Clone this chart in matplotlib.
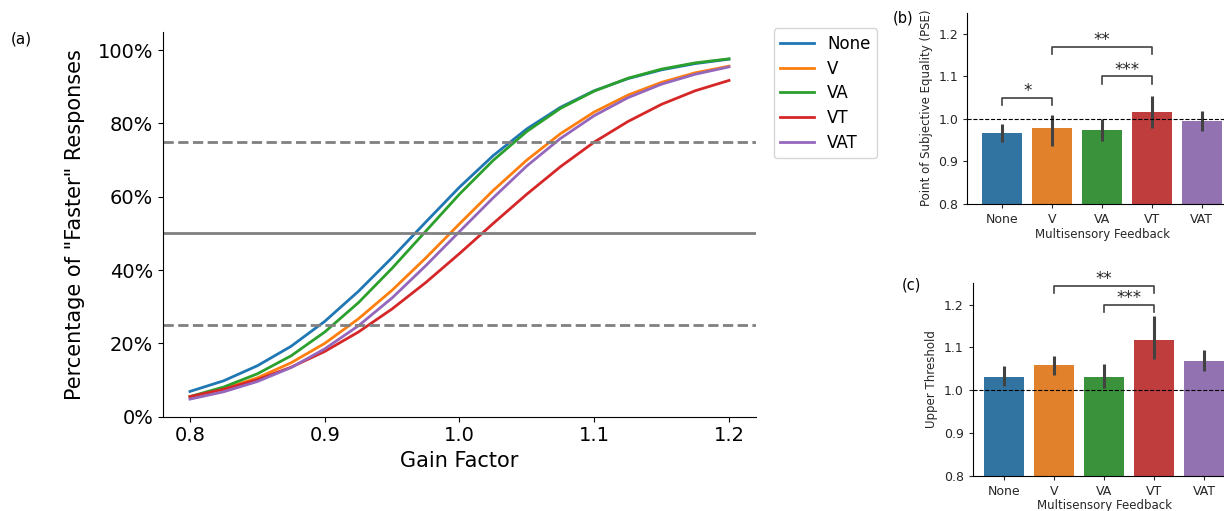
import numpy as np
import matplotlib.pyplot as plt
from matplotlib.ticker import PercentFormatter

# conditions shared by all three panels
conditions = ["None", "V", "VA", "VT", "VAT"]

# (a) psychometric curves, proportion of "faster" responses
gain = [0.800, 0.825, 0.850, 0.875, 0.900, 0.925, 0.950, 0.975, 1.000,
        1.025, 1.050, 1.075, 1.100, 1.125, 1.150, 1.175, 1.200]
resp_none = [0.069, 0.098, 0.139, 0.192, 0.260, 0.342, 0.434, 0.531, 0.626,
             0.712, 0.785, 0.844, 0.889, 0.922, 0.946, 0.963, 0.975]
resp_v = [0.054, 0.076, 0.106, 0.147, 0.200, 0.267, 0.345, 0.433, 0.526,
          0.617, 0.700, 0.772, 0.831, 0.877, 0.912, 0.938, 0.956]
resp_va = [0.055, 0.081, 0.117, 0.166, 0.231, 0.311, 0.405, 0.506, 0.607,
           0.699, 0.778, 0.841, 0.888, 0.923, 0.948, 0.965, 0.976]
resp_vt = [0.055, 0.075, 0.101, 0.135, 0.178, 0.231, 0.294, 0.366, 0.445,
           0.527, 0.607, 0.682, 0.749, 0.805, 0.852, 0.889, 0.917]
resp_vat = [0.048, 0.068, 0.096, 0.134, 0.185, 0.248, 0.324, 0.412, 0.505,
            0.597, 0.684, 0.759, 0.821, 0.870, 0.907, 0.934, 0.954]
ref_levels = [0.25, 0.50, 0.75]

# (b) point of subjective equality with 95% CI
pse_mean = [0.967, 0.978, 0.973, 1.016, 0.995]
pse_lo = [0.946, 0.936, 0.948, 0.978, 0.972]
pse_hi = [0.987, 1.010, 1.000, 1.054, 1.019]
pse_sig = [("None", "V", 1.05, "*"), ("V", "VT", 1.17, "**"), ("VA", "VT", 1.10, "***")]

# (c) upper threshold with 95% CI
upper_mean = [1.032, 1.058, 1.032, 1.118, 1.069]
upper_lo = [1.010, 1.036, 1.005, 1.073, 1.044]
upper_hi = [1.057, 1.081, 1.062, 1.173, 1.095]
upper_sig = [("V", "VT", 1.244, "**"), ("VA", "VT", 1.20, "***")]

line_colors = ["#1f77b4", "#ff7f0e", "#2ca02c", "#d62728", "#9467bd"]
bar_colors = ["#3274a1", "#e1812c", "#3a923a", "#c03d3e", "#9372b2"]
txt = "#262626"

fig = plt.figure(figsize=(12.24, 5.11), dpi=100)

# ---- panel (a)
ax = fig.add_axes([0.1332, 0.1845, 0.4844, 0.7535])
for name, vals, col in zip(conditions, [resp_none, resp_v, resp_va, resp_vt, resp_vat], line_colors):
    ax.plot(gain, vals, color=col, lw=2, label=name)
for lev in ref_levels:
    ax.axhline(lev, color="gray", lw=2, ls="-" if lev == 0.5 else "--")
ax.set_xlim(0.78, 1.22)
ax.set_ylim(0, 1.05)
ax.set_xticks([0.8, 0.9, 1.0, 1.1, 1.2])
ax.set_yticks([0, 0.2, 0.4, 0.6, 0.8, 1.0])
ax.yaxis.set_major_formatter(PercentFormatter(1.0, decimals=0))
ax.tick_params(labelsize=14)
ax.set_xlabel("Gain Factor", fontsize=15)
ax.set_ylabel('Percentage of "Faster" Responses', fontsize=15, labelpad=9)
ax.spines[["top", "right"]].set_visible(False)
ax.legend(loc="upper left", bbox_to_anchor=(0.632, 0.9446), bbox_transform=fig.transFigure,
          fontsize=12, borderaxespad=0, labelspacing=0.4)
fig.text(0.009, 0.915, "(a)", fontsize=11)


def bar_panel(ax, means, lo, hi, sigs, ylabel, xlim, xpad):
    x = np.arange(len(conditions))
    ax.bar(x, means, width=0.8, color=bar_colors)
    ax.vlines(x, lo, hi, color="#424242", lw=2.2)
    ax.axhline(1.0, color="black", lw=0.8, ls="--")
    for a, b, y, stars in sigs:
        i, j = conditions.index(a), conditions.index(b)
        ax.plot([i, i, j, j], [y - 0.017, y, y, y - 0.017], color="#424242", lw=1.2, clip_on=False)
        ax.text((i + j) / 2, y - 0.006, stars, ha="center", va="bottom", fontsize=12,
                color=txt, clip_on=False)
    ax.set_xlim(*xlim)
    ax.set_ylim(0.8, 1.25)
    ax.set_xticks(x)
    ax.set_xticklabels(conditions)
    ax.set_yticks([0.8, 0.9, 1.0, 1.1, 1.2])
    ax.tick_params(labelsize=9, labelcolor=txt, length=3, color=txt)
    ax.set_xlabel("Multisensory Feedback", fontsize=8.5, color=txt, labelpad=xpad)
    ax.set_ylabel(ylabel, fontsize=8.5, color=txt)
    ax.spines[["top", "right"]].set_visible(False)


# ---- panel (b)
axb = fig.add_axes([0.7903, 0.6014, 0.2201, 0.3737])
bar_panel(axb, pse_mean, pse_lo, pse_hi, pse_sig, "Point of Subjective Equality (PSE)", (-0.7, 4.7), 2)
fig.text(0.729, 0.955, "(b)", fontsize=10.5)

# ---- panel (c)
axc = fig.add_axes([0.7947, 0.0691, 0.2150, 0.3765])
bar_panel(axc, upper_mean, upper_lo, upper_hi, upper_sig, "Upper Threshold", (-0.63, 4.63), 1)
fig.text(0.737, 0.433, "(c)", fontsize=10.5)

fig.savefig("out.png", dpi=100)
